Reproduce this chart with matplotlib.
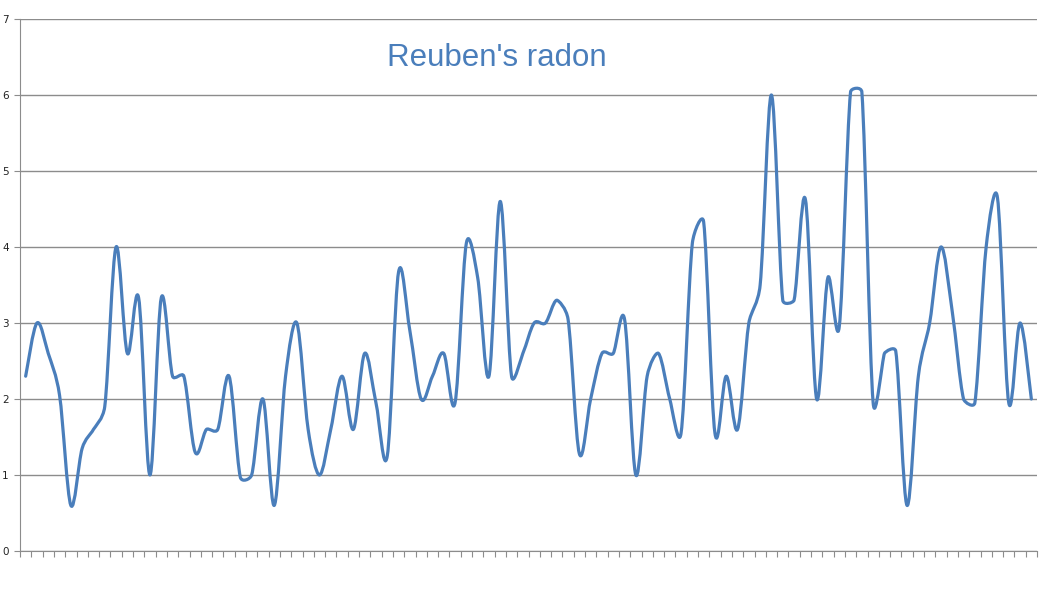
import numpy as np
import matplotlib
matplotlib.use("Agg")
import matplotlib.pyplot as plt
from matplotlib.path import Path
from matplotlib.patches import PathPatch

# radon readings, one per category
radon = [2.3, 3.0, 2.6, 2.05, 0.6, 1.35, 1.6, 1.9, 4.0, 2.6,
         3.33, 1.0, 3.33, 2.3, 2.3, 1.3, 1.6, 1.6, 2.3, 0.97,
         1.0, 2.0, 0.6, 2.3, 3.0, 1.6, 1.0, 1.6, 2.3, 1.6,
         2.6, 1.95, 1.25, 3.67, 2.9, 2.0, 2.3, 2.6, 1.95, 4.05,
         3.6, 2.3, 4.6, 2.3, 2.6, 3.0, 3.0, 3.3, 3.05, 1.28,
         2.0, 2.6, 2.6, 3.05, 1.0, 2.3, 2.6, 2.0, 1.55, 4.05,
         4.33, 1.55, 2.3, 1.6, 3.0, 3.5, 6.0, 3.3, 3.3, 4.63,
         2.0, 3.6, 2.95, 6.04, 6.04, 1.95, 2.6, 2.63, 0.6, 2.3,
         3.0, 4.0, 3.15, 2.0, 1.95, 4.0, 4.65, 1.95, 3.0, 2.0]
y_ticks = [0, 1, 2, 3, 4, 5, 6, 7]
title = "Reuben's radon"

n = len(radon)
x = np.arange(n) + 0.5
y = np.array(radon)

fig = plt.figure(figsize=(10.47, 6), dpi=100)
ax = fig.add_axes([20/1047, 1-551/600, 1017/1047, 532/600])
ax.set_xlim(0, n)
ax.set_ylim(0, 7)

# smoothed line the way Excel does it: bezier segments, arms shortened
# when they would be longer than half the segment (done in pixel space)
pts = ax.transData.transform(np.column_stack([x, y]))
verts = [tuple(pts[0])]
codes = [Path.MOVETO]
for i in range(n - 1):
    p0 = pts[max(i-1, 0)]
    p1 = pts[i]
    p2 = pts[i+1]
    p3 = pts[min(i+2, n-1)]
    d12 = np.hypot(*(p2 - p1))
    d02 = np.hypot(*(p2 - p0))
    d13 = np.hypot(*(p3 - p1))
    f = 1/6
    if (d02/6 > d12/2 or d13/6 > d12/2) and d02 > 0 and d13 > 0:
        f = min(d12/(2*d02), d12/(2*d13))
    c1 = p1 + (p2 - p0) * f
    c2 = p2 - (p3 - p1) * f
    verts += [tuple(c1), tuple(c2), tuple(p2)]
    codes += [Path.CURVE4] * 3
verts = ax.transData.inverted().transform(np.array(verts))
ax.add_patch(PathPatch(Path(verts, codes), fill=False, edgecolor='#4a7ebb',
                       lw=2.3, capstyle='round', joinstyle='round', zorder=3))

ax.set_yticks(y_ticks)
ax.set_xticks(np.arange(n + 1))
ax.set_xticklabels([])
ax.grid(axis='y', color='#8c8c8c', lw=1)
ax.set_axisbelow(True)
for s in ['top', 'right']:
    ax.spines[s].set_visible(False)
for s in ['left', 'bottom']:
    ax.spines[s].set_color('#8c8c8c')
ax.tick_params(axis='x', length=4, color='#8c8c8c', direction='out')
ax.tick_params(axis='y', length=4, color='#8c8c8c', pad=4, labelsize=7.5,
               labelcolor='#222222')

ax.text(0.469, 0.926, title, transform=ax.transAxes, ha='center', va='center',
        fontsize=22.5, color='#4a7ebb', family='Liberation Sans')

fig.savefig("out.png", dpi=100)
